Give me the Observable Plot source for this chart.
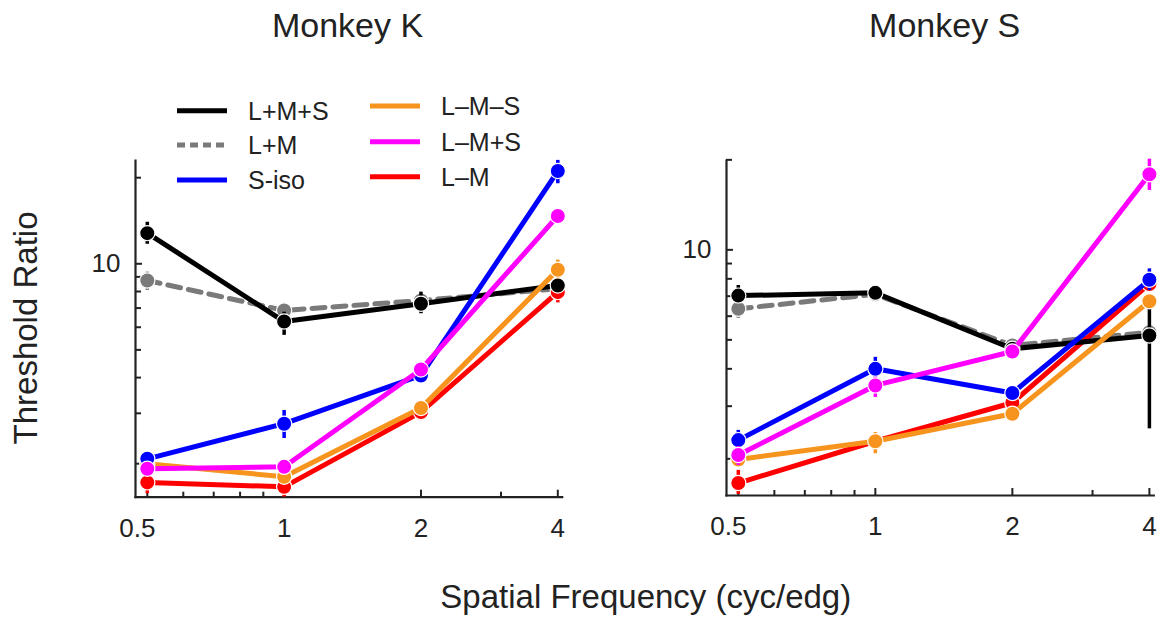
<!DOCTYPE html>
<html><head><meta charset="utf-8">
<script src="https://cdn.jsdelivr.net/npm/d3@7"></script>
<script src="https://cdn.jsdelivr.net/npm/@observablehq/plot@0.6"></script>
<style>
html,body{margin:0;padding:0;background:#fff;}
#wrap{position:relative;width:1166px;height:618px;overflow:hidden;font-family:"Liberation Sans",Arial,Helvetica,sans-serif;color:#222;}
.panel{position:absolute;top:0;}
#overlay{position:absolute;left:0;top:0;pointer-events:none;}
</style></head><body><div id="wrap"></div>
<script>
// ---- data ----
const freqs = [0.5, 1, 2, 4];
const seriesNames = ["L+M+S", "L+M", "S-iso", "L–M–S", "L–M+S", "L–M"];
const seriesColors = ["#000000", "#7a7a7a", "#0000ff", "#f7941d", "#ff00ff", "#ff0000"];
const drawOrder = ["L+M", "L–M", "L+M+S", "L–M–S", "S-iso", "L–M+S"];

// Monkey K
const K_LMS = [12.8, 6.28, 7.25, 8.4];
const K_LMS_lo = [11.7, 5.62, 6.69, 8.0];
const K_LMS_hi = [13.97, 6.77, 7.96, 8.8];
const K_LM = [8.74, 6.87, 7.44, 8.18];
const K_LM_lo = [8.07, 6.5, 7.1, 7.9];
const K_LM_hi = [9.35, 7.2, 7.8, 8.5];
const K_Siso = [2.08, 2.76, 4.07, 21.1];
const K_Siso_lo = [1.95, 2.45, 3.9, 19.05];
const K_Siso_hi = [2.2, 3.07, 4.25, 22.99];
const K_LmMmS = [2.0, 1.80, 3.13, 9.53];
const K_LmMmS_lo = [1.9, 1.7, 3.0, 8.86];
const K_LmMmS_hi = [2.1, 1.9, 3.28, 10.3];
const K_LmMpS = [1.92, 1.95, 4.27, 14.7];
const K_LmMpS_lo = [1.85, 1.87, 4.15, 14.2];
const K_LmMpS_hi = [2.0, 2.03, 4.4, 15.2];
const K_LmM = [1.72, 1.66, 3.03, 7.96];
const K_LmM_lo = [1.57, 1.53, 2.83, 7.3];
const K_LmM_hi = [1.8, 1.75, 3.24, 8.5];

// Monkey S
const S_LMS = [7.03, 7.18, 4.67, 5.17];
const S_LMS_lo = [6.6, 6.95, 4.45, 2.52];
const S_LMS_hi = [7.6, 7.4, 4.9, 6.5];
const S_LM = [6.35, 7.1, 4.79, 5.3];
const S_LM_lo = [5.9, 6.9, 4.6, 5.1];
const S_LM_hi = [6.6, 7.3, 5.0, 5.5];
const S_Siso = [2.31, 4.0, 3.32, 7.94];
const S_Siso_lo = [2.16, 3.66, 3.2, 7.31];
const S_Siso_hi = [2.49, 4.37, 3.45, 8.64];
const S_LmMmS = [1.99, 2.29, 2.83, 6.73];
const S_LmMmS_lo = [1.9, 2.08, 2.72, 6.5];
const S_LmMmS_hi = [2.08, 2.45, 2.95, 6.95];
const S_LmMpS = [2.06, 3.52, 4.57, 17.9];
const S_LmMpS_lo = [1.9, 3.21, 4.45, 15.8];
const S_LmMpS_hi = [2.2, 3.75, 4.7, 20.1];
const S_LmM = [1.66, 2.29, 3.08, 7.69];
const S_LmM_lo = [1.52, 2.15, 2.95, 7.4];
const S_LmM_hi = [1.83, 2.4, 3.2, 8.0];

// ticks
const xTickMajor = [0.5, 1, 2, 4];
const xTickMinor = [0.6, 0.7, 0.8, 0.9, 3];
const xTickLabelsMain = [1, 2, 4];
const xTickLabelsFirst = [0.5];
const yTickMajor = [10];
const yTickMinor = [2, 3, 4, 5, 6, 7, 8, 9, 20];

const FONT = '"Liberation Sans", Arial, Helvetica, sans-serif';
const TXT = "#222";

function rows(name, v, lo, hi) {
  return freqs.map((f, i) => ({series: name, f, v: v[i], lo: lo[i], hi: hi[i]}));
}
const dataK = {
  "L+M+S": rows("L+M+S", K_LMS, K_LMS_lo, K_LMS_hi),
  "L+M": rows("L+M", K_LM, K_LM_lo, K_LM_hi),
  "S-iso": rows("S-iso", K_Siso, K_Siso_lo, K_Siso_hi),
  "L–M–S": rows("L–M–S", K_LmMmS, K_LmMmS_lo, K_LmMmS_hi),
  "L–M+S": rows("L–M+S", K_LmMpS, K_LmMpS_lo, K_LmMpS_hi),
  "L–M": rows("L–M", K_LmM, K_LmM_lo, K_LmM_hi)
};
const dataS = {
  "L+M+S": rows("L+M+S", S_LMS, S_LMS_lo, S_LMS_hi),
  "L+M": rows("L+M", S_LM, S_LM_lo, S_LM_hi),
  "S-iso": rows("S-iso", S_Siso, S_Siso_lo, S_Siso_hi),
  "L–M–S": rows("L–M–S", S_LmMmS, S_LmMmS_lo, S_LmMmS_hi),
  "L–M+S": rows("L–M+S", S_LmMpS, S_LmMpS_lo, S_LmMpS_hi),
  "L–M": rows("L–M", S_LmM, S_LmM_lo, S_LmM_hi)
};
const colorOf = name => seriesColors[seriesNames.indexOf(name)];

function panel(data, {width, marginLeft, marginRight, marginBottom, yDomain}) {
  const seriesMarks = drawOrder.flatMap(name => {
    const d = data[name], c = colorOf(name);
    return [
      Plot.ruleX(d, {x: "f", y1: "lo", y2: "hi", stroke: c, strokeWidth: 3.5}),
      Plot.line(d, {x: "f", y: "v", stroke: c, strokeWidth: 5, strokeDasharray: name === "L+M" ? "13,8" : null}),
      Plot.dot(d, {x: "f", y: "v", r: 7.6, fill: c, stroke: "white", strokeWidth: 1.2})
    ];
  });
  const fmt = d => String(d);
  return Plot.plot({
    width, height: 560, marginLeft, marginRight, marginTop: 160, marginBottom,
    x: {type: "log", domain: [0.471, 4.09]},
    y: {type: "log", domain: yDomain},
    style: {fontFamily: FONT, fontSize: "26px", color: TXT, background: "transparent", overflow: "visible"},
    marks: [
      Plot.axisX(xTickMajor, {tickSize: -7, fill: "none", strokeWidth: 2, label: null}),
      Plot.axisX(xTickMinor, {tickSize: -5, fill: "none", strokeWidth: 2, label: null}),
      Plot.axisX(xTickLabelsMain, {tickSize: 0, tickPadding: 21, stroke: "none", tickFormat: fmt, label: null}),
      Plot.axisX(xTickLabelsFirst, {tickSize: 0, tickPadding: 21, stroke: "none", tickFormat: fmt, dx: -10, label: null}),
      Plot.axisY(yTickMajor, {tickSize: -7, fill: "none", strokeWidth: 2, label: null}),
      Plot.axisY(yTickMinor, {tickSize: -6, fill: "none", strokeWidth: 2, label: null}),
      Plot.axisY(yTickMajor, {tickSize: 0, tickPadding: 15, stroke: "none", tickFormat: fmt, label: null}),
      Plot.frame({anchor: "left", strokeWidth: 2.2}),
      Plot.frame({anchor: "bottom", strokeWidth: 2.2}),
      ...seriesMarks
    ]
  });
}

const wrap = document.getElementById("wrap");
const pK = panel(dataK, {width: 600, marginLeft: 135, marginRight: 38.3, marginBottom: 63.3, yDomain: [1.527, 22.97]});
pK.classList.add("panel"); pK.style.left = "0px";
wrap.appendChild(pK);
const pS = panel(dataS, {width: 566, marginLeft: 126, marginRight: 12.7, marginBottom: 65, yDomain: [1.508, 19.9]});
pS.classList.add("panel"); pS.style.left = "600px";
wrap.appendChild(pS);

// ---- overlay: titles, axis labels, legend ----
const svg = d3.select(wrap).append("svg").attr("id", "overlay")
  .attr("width", 1166).attr("height", 618)
  .style("font-family", FONT).style("fill", TXT);
svg.append("text").attr("x", 347.5).attr("y", 37.3).attr("text-anchor", "middle").attr("font-size", 34).text("Monkey K");
svg.append("text").attr("x", 944.7).attr("y", 37.3).attr("text-anchor", "middle").attr("font-size", 34).text("Monkey S");
svg.append("text").attr("transform", "translate(36.7,328) rotate(-90)").attr("text-anchor", "middle").attr("font-size", 33).text("Threshold Ratio");
svg.append("text").attr("x", 645.8).attr("y", 608.3).attr("text-anchor", "middle").attr("font-size", 33).text("Spatial Frequency (cyc/edg)");

const legendPos = [
  {x: 177, y: 110.7}, {x: 177, y: 145}, {x: 177, y: 180},
  {x: 370, y: 106}, {x: 370, y: 141.7}, {x: 370, y: 176.7}
];
seriesNames.forEach((name, i) => {
  const p = legendPos[i];
  svg.append("line").attr("x1", p.x).attr("x2", p.x + 50).attr("y1", p.y).attr("y2", p.y)
    .attr("stroke", seriesColors[i]).attr("stroke-width", 5)
    .attr("stroke-dasharray", name === "L+M" ? "8,5" : null);
  svg.append("text").attr("x", p.x + 71).attr("y", p.y + 9).attr("font-size", 25).text(name);
});
</script></body></html>
